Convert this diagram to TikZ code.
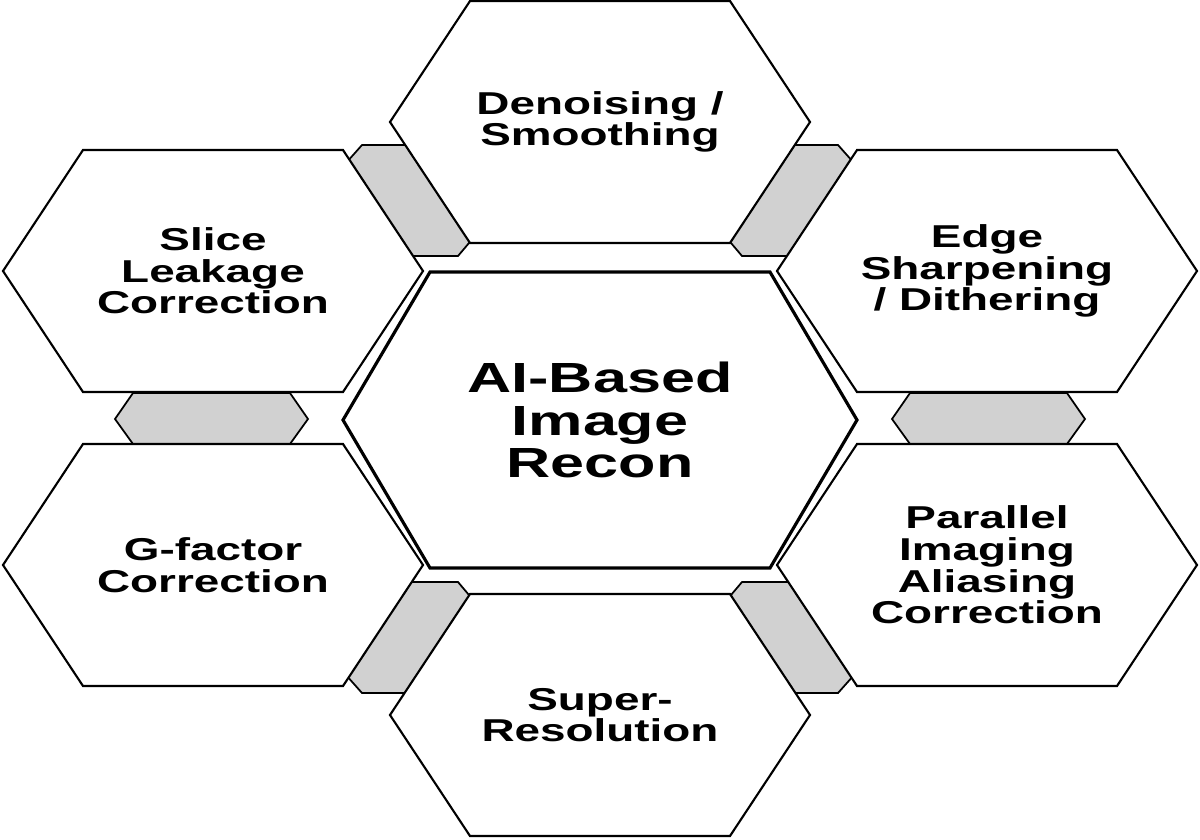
\documentclass[tikz,border=0pt]{standalone}
\usepackage{fontspec}
\setmainfont[FakeStretch=1.45]{Liberation Sans}
\begin{document}
\begin{tikzpicture}[x=0.02cm,y=-0.02cm]
\tikzstyle{hexline}=[draw=black,line width=1.2pt,line join=miter,fill=white]
\tikzstyle{link}=[draw=black,line width=1pt,fill=black!18]
\tikzstyle{label}=[align=center,font=\bfseries\fontsize{18}{18}\selectfont]
\useasboundingbox (0,0) rectangle (1200,839);
% connectors, drawn first
\path[link] (338,172) -- (362,145) -- (408,145) -- (480,230) -- (458,256) -- (410,256) -- cycle;
\path[link] (862,172) -- (838,145) -- (792,145) -- (720,230) -- (742,256) -- (790,256) -- cycle;
\path[link] (338,666) -- (362,693) -- (408,693) -- (480,608) -- (458,582) -- (410,582) -- cycle;
\path[link] (862,666) -- (838,693) -- (792,693) -- (720,608) -- (742,582) -- (790,582) -- cycle;
\path[link] (115,419) -- (133,393) -- (290,393) -- (308,419) -- (290,444) -- (133,444) -- cycle;
\path[link] (892,419) -- (910,393) -- (1067,393) -- (1085,419) -- (1067,444) -- (910,444) -- cycle;
% outer hexagons
\foreach \cx/\cy in {600/122, 213/271, 987/271, 213/565, 987/565, 600/715}
  \path[hexline] (\cx-210,\cy) -- (\cx-130,\cy-121) -- (\cx+130,\cy-121) -- (\cx+210,\cy)
     -- (\cx+130,\cy+121) -- (\cx-130,\cy+121) -- cycle;
% centre hexagon
\path[hexline,line width=1.8pt] (343,420) -- (430,272) -- (770,272) -- (857,420) -- (770,568) -- (430,568) -- cycle;
\node[label] (denoise) at (600,122) {Denoising /\\Smoothing};
\node[label] (slice) at (213,271) {Slice\\Leakage\\Correction};
\node[label] (edge) at (987,271) {Edge\\Sharpening\\/ Dithering};
\node[label] (gfactor) at (213,565) {G-factor\\Correction};
\node[label] (parallel) at (987,565) {Parallel\\Imaging\\Aliasing\\Correction};
\node[label] (super) at (600,715) {Super-\\Resolution};
\node[label,font=\bfseries\fontsize{24}{24}\selectfont] (recon) at (600,420) {AI-Based\\Image\\Recon};
\end{tikzpicture}
\end{document}
